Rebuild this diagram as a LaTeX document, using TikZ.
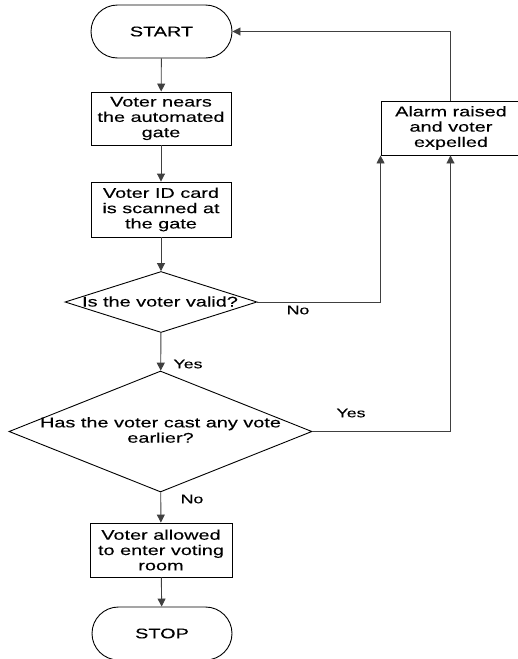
\documentclass[tikz,border=0pt]{standalone}
\usepackage{fontspec}
\setmainfont[FakeStretch=1.42,FakeBold=0.15]{Liberation Sans}
\usetikzlibrary{shapes.geometric,shapes.misc,arrows.meta}
\begin{document}
\begin{tikzpicture}[x=1pt,y=-1pt,
  every node/.style={font=\fontsize{14}{15.3}\selectfont, inner sep=0pt},
  term/.style={rounded rectangle, draw=black, line width=0.9pt, minimum width=141pt, minimum height=53pt},
  procbox/.style={rectangle, draw=black, line width=0.9pt, align=center},
  decis/.style={diamond, draw=black, line width=0.9pt},
  txt/.style={align=center},
  conn/.style={draw=black!75, line width=0.9pt},
  arr/.style={conn, -{Triangle[length=8pt,width=8pt]}},
  lbl/.style={font=\fontsize{12.5}{14}\selectfont}
]
\useasboundingbox (0,0) rectangle (518,659);
\clip (0,0) rectangle (518,659);
\fill[white] (0,0) rectangle (518,659);

\node[term] (start) at (161.5,31.5) {START};
\node[procbox, minimum width=140pt, minimum height=53pt] (b1) at (161,118.5) {Voter nears\\the automated\\gate};
\node[procbox, minimum width=140pt, minimum height=55pt] (b2) at (161,209.5) {Voter ID card\\is scanned at\\the gate};
\node[decis, minimum width=192pt, minimum height=61pt, aspect=3.15] (d1) at (161,302) {};
\node[txt] (d1t) at (160,301.5) {Is the voter valid?};
\node[decis, minimum width=303pt, minimum height=121pt, aspect=2.5] (d2) at (160.5,431.5) {};
\node[txt] (d2t) at (160.5,430) {Has the voter cast any vote\\earlier?};
\node[procbox, minimum width=142pt, minimum height=54pt] (b3) at (161,550) {Voter allowed\\to enter voting\\room};
\node[term, minimum width=140pt] (stop) at (162,633.5) {STOP};
\node[procbox, minimum width=139pt, minimum height=54pt] (alarm) at (450.5,128) {};
\node[txt] (alarmt) at (451,128) {Alarm raised\\and voter\\expelled};

\draw[arr] (start) -- (b1);
\draw[arr] (b1) -- (b2);
\draw[arr] (b2) -- (d1);
\draw[arr] (d1) -- (d2);
\draw[arr] (d2) -- (b3);
\draw[arr] (b3) -- (stop);
\draw[arr] (d1.east) -| (alarm.south west);
\draw[arr] (d2.east) -| (alarm.south);
\draw[arr] (alarm.north) |- (start.east);

\node[lbl] (lno1) at (298,310) {No};
\node[lbl] (lyes1) at (188,364) {Yes};
\node[lbl] (lyes2) at (351,413) {Yes};
\node[lbl] (lno2) at (192,499) {No};
\end{tikzpicture}
\end{document}
